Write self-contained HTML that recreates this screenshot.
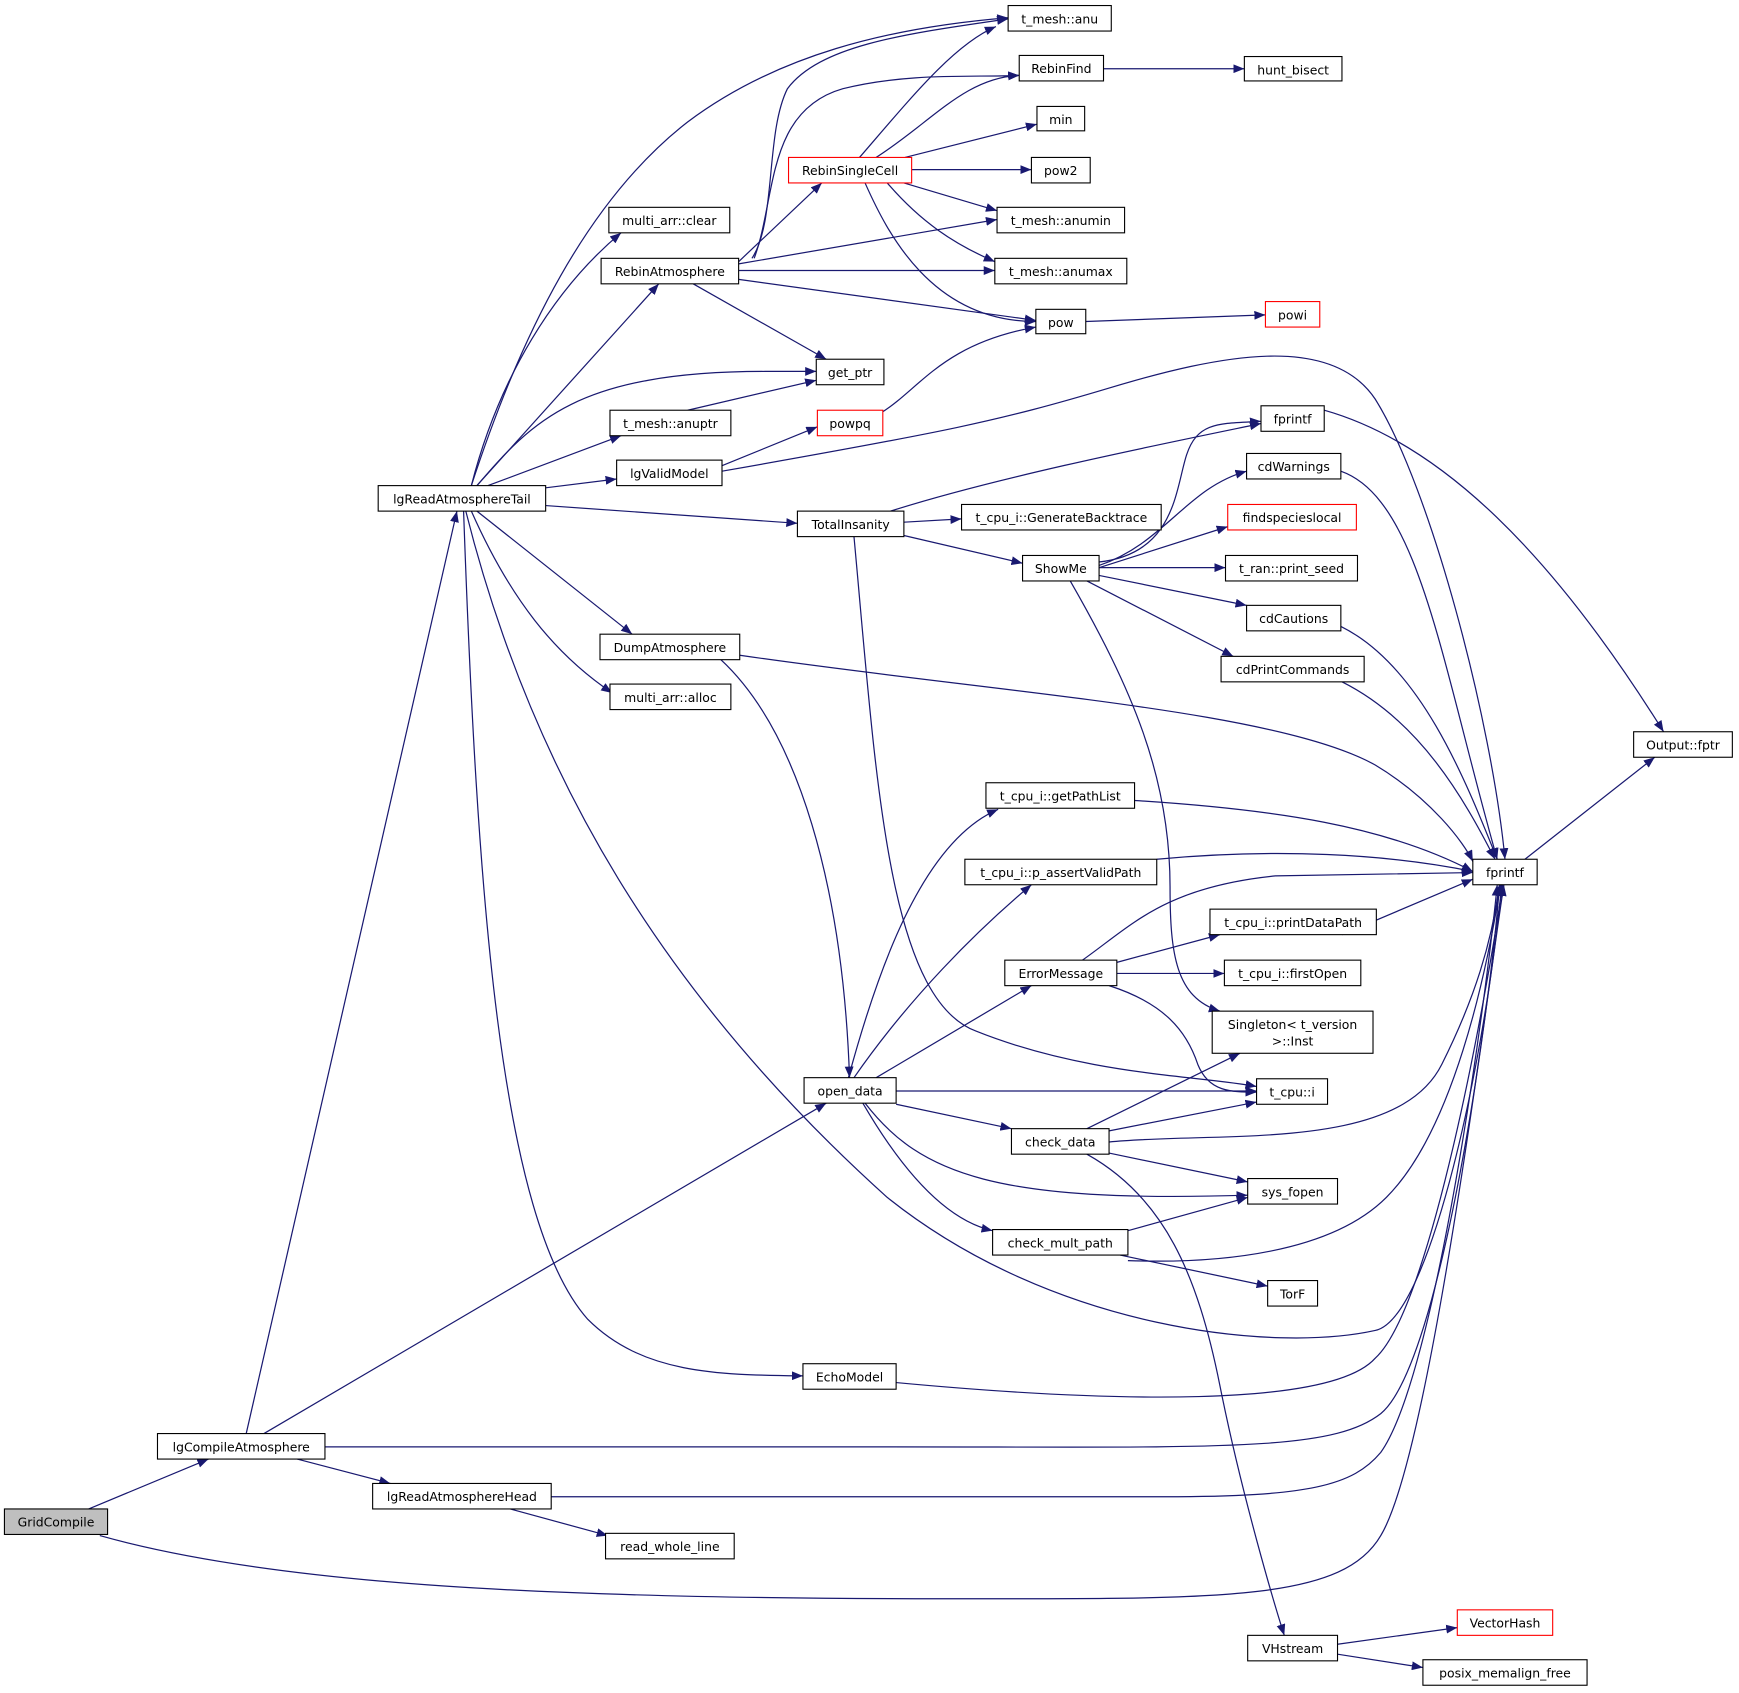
<!DOCTYPE html>
<html><head><meta charset="utf-8"><style>
html,body{margin:0;padding:0;background:#fff}
svg{display:block}
text{font-family:"DejaVu Sans","Liberation Sans",sans-serif;font-size:11.2px;fill:#000;text-anchor:middle}
.e{fill:none;stroke:#191970;stroke-width:1.1}
.n{fill:#fff;stroke:#000;stroke-width:1}
</style></head><body>
<svg width="1739" height="1693" viewBox="0 0 1568 1527" preserveAspectRatio="none" xmlns="http://www.w3.org/2000/svg">
<defs><marker id="a" markerUnits="userSpaceOnUse" markerWidth="11" markerHeight="8" refX="10" refY="4" orient="auto"><path d="M0,0 L10,4 L0,8 z" fill="#191970"/></marker></defs>
<g class="e" marker-end="url(#a)">
<path d="M80,1361 L188,1316"/>
<path d="M90,1385 C250,1430 500,1442 850,1442 C1100,1442 1210,1445 1245,1385 C1290,1310 1340,900 1356,798"/>
<path d="M222,1293 L412,461"/>
<path d="M238,1293 L745,995"/>
<path d="M268,1316 L352,1338"/>
<path d="M293,1305 L800,1305 C1100,1305 1200,1310 1245,1275 C1300,1230 1345,900 1352,798"/>
<path d="M460,1361 L548,1385"/>
<path d="M497,1350 L1050,1350 C1180,1350 1220,1340 1245,1310 C1295,1240 1340,900 1350,798"/>
<path d="M425,438 C470,300 530,180 620,110 C700,50 800,25 909,16"/>
<path d="M425,438 C450,340 500,260 560,210"/>
<path d="M430,438 L594,256"/>
<path d="M430,438 C480,380 520,335 690,335 L736,335"/>
<path d="M440,438 L560,393"/>
<path d="M492,440 L556,432"/>
<path d="M492,456 L719,472"/>
<path d="M430,461 L570,572"/>
<path d="M425,461 C460,540 500,590 552,625"/>
<path d="M420,461 C480,700 600,900 800,1080 C950,1200 1150,1220 1240,1200 C1290,1190 1340,950 1354,798"/>
<path d="M418,461 C430,800 450,1100 530,1190 C580,1240 650,1240 724,1241"/>
<path d="M678,233 C700,200 690,120 710,80 C740,40 820,30 909,17"/>
<path d="M680,233 C700,180 690,100 760,80 C820,65 880,70 919,68"/>
<path d="M666,236 L741,165"/>
<path d="M666,238 L899,198"/>
<path d="M666,244 L897,244"/>
<path d="M666,252 L934,289"/>
<path d="M625,256 L745,324"/>
<path d="M775,142 C820,90 860,40 898,24"/>
<path d="M790,142 C840,110 870,70 919,68"/>
<path d="M816,142 L935,112"/>
<path d="M822,153 L930,153"/>
<path d="M815,165 L899,190"/>
<path d="M800,165 C830,200 860,220 897,236"/>
<path d="M780,165 C800,210 840,290 934,290"/>
<path d="M995,62 L1122,62"/>
<path d="M979,290 L1141,284"/>
<path d="M620,370 L736,343"/>
<path d="M795,372 C830,350 850,310 934,295"/>
<path d="M651,420 L737,385"/>
<path d="M651,425 C850,390 900,380 1000,350 C1100,320 1200,300 1240,360 C1290,440 1345,650 1357,775"/>
<path d="M803,461 C900,430 1050,400 1137,382"/>
<path d="M815,471 L867,468"/>
<path d="M815,483 L922,508"/>
<path d="M770,484 C790,700 800,900 880,930 C980,970 1080,970 1133,980"/>
<path d="M990,507 C1060,500 1060,440 1070,410 C1080,380 1100,382 1137,380"/>
<path d="M991,510 C1050,490 1070,440 1124,425"/>
<path d="M991,512 L1107,475"/>
<path d="M991,512 L1105,512"/>
<path d="M991,519 L1124,546"/>
<path d="M980,524 L1112,592"/>
<path d="M965,524 C1020,620 1055,700 1055,800 C1055,860 1060,900 1100,912"/>
<path d="M1194,370 C1300,400 1400,500 1500,660"/>
<path d="M1375,775 L1492,683"/>
<path d="M1209,425 C1280,450 1300,600 1350,775"/>
<path d="M1209,565 C1280,600 1320,700 1350,775"/>
<path d="M1210,615 C1280,650 1320,720 1348,775"/>
<path d="M667,591 C900,625 1150,640 1240,690 C1290,720 1320,760 1328,777"/>
<path d="M650,595 C720,660 760,800 766,972"/>
<path d="M765,972 C790,880 830,760 900,730"/>
<path d="M770,972 C820,900 880,840 930,798"/>
<path d="M790,972 L930,889"/>
<path d="M808,984 L1133,984"/>
<path d="M808,996 L912,1018"/>
<path d="M780,995 C830,1060 900,1085 1125,1078"/>
<path d="M778,995 C810,1050 850,1100 895,1110"/>
<path d="M1023,722 C1150,730 1250,745 1328,786"/>
<path d="M1043,775 C1150,765 1250,770 1328,786"/>
<path d="M976,866 C1020,835 1050,800 1150,790 L1328,787"/>
<path d="M1007,868 L1100,843"/>
<path d="M1007,878 L1104,878"/>
<path d="M1000,889 C1050,905 1070,930 1080,960 C1090,985 1110,985 1133,985"/>
<path d="M1210,843 L1328,793"/>
<path d="M980,1018 L1118,950"/>
<path d="M1000,1020 L1133,994"/>
<path d="M1000,1040 L1125,1066"/>
<path d="M1000,1030 C1100,1020 1260,1040 1300,960 C1330,900 1345,850 1352,798"/>
<path d="M980,1041 C1050,1080 1080,1150 1100,1250 C1120,1350 1150,1450 1158,1475"/>
<path d="M1017,1110 L1125,1080"/>
<path d="M1010,1132 L1143,1160"/>
<path d="M1017,1137 C1100,1140 1200,1130 1250,1080 C1310,1020 1340,880 1353,798"/>
<path d="M808,1247 C1000,1265 1200,1270 1240,1225 C1290,1180 1340,900 1355,798"/>
<path d="M1206,1483 L1314,1468"/>
<path d="M1206,1492 L1283,1504"/>
</g>
<g>
<rect x="4" y="1361" width="93" height="23" fill="#bfbfbf" stroke="#000"/><text x="50.5" y="1377">GridCompile</text>
<rect class="n" x="142" y="1293" width="151" height="23"/><text x="217.5" y="1309">lgCompileAtmosphere</text>
<rect class="n" x="336" y="1338" width="161" height="23"/><text x="416.5" y="1354">lgReadAtmosphereHead</text>
<rect class="n" x="546" y="1383" width="116" height="23"/><text x="604" y="1399">read_whole_line</text>
<rect class="n" x="341" y="438" width="151" height="23"/><text x="416.5" y="454">lgReadAtmosphereTail</text>
<rect class="n" x="909" y="5" width="93" height="23"/><text x="955.5" y="21">t_mesh::anu</text>
<rect class="n" x="919" y="50" width="76" height="23"/><text x="957" y="66">RebinFind</text>
<rect class="n" x="1122" y="51" width="88" height="22"/><text x="1166" y="67">hunt_bisect</text>
<rect class="n" x="935" y="96" width="43" height="22"/><text x="956.5" y="112">min</text>
<rect x="711" y="142" width="111" height="23" fill="#fff" stroke="#f00"/><text x="766.5" y="158">RebinSingleCell</text>
<rect class="n" x="930" y="142" width="53" height="23"/><text x="956.5" y="158">pow2</text>
<rect class="n" x="549" y="187" width="109" height="23"/><text x="603.5" y="203">multi_arr::clear</text>
<rect class="n" x="899" y="187" width="115" height="23"/><text x="956.5" y="203">t_mesh::anumin</text>
<rect class="n" x="542" y="233" width="124" height="23"/><text x="604" y="249">RebinAtmosphere</text>
<rect class="n" x="897" y="233" width="119" height="23"/><text x="956.5" y="249">t_mesh::anumax</text>
<rect class="n" x="934" y="279" width="45" height="22"/><text x="956.5" y="295">pow</text>
<rect x="1141" y="272" width="49" height="23" fill="#fff" stroke="#f00"/><text x="1165.5" y="288">powi</text>
<rect class="n" x="736" y="324" width="61" height="23"/><text x="766.5" y="340">get_ptr</text>
<rect class="n" x="550" y="370" width="109" height="23"/><text x="604.5" y="386">t_mesh::anuptr</text>
<rect x="737" y="370" width="59" height="23" fill="#fff" stroke="#f00"/><text x="766.5" y="386">powpq</text>
<rect class="n" x="556" y="415" width="95" height="23"/><text x="603.5" y="431">lgValidModel</text>
<rect class="n" x="1137" y="366" width="57" height="23"/><text x="1165.5" y="382">fprintf</text>
<rect class="n" x="1124" y="409" width="85" height="23"/><text x="1166.5" y="425">cdWarnings</text>
<rect class="n" x="719" y="461" width="96" height="23"/><text x="767" y="477">TotalInsanity</text>
<rect class="n" x="867" y="455" width="180" height="23"/><text x="957" y="471">t_cpu_i::GenerateBacktrace</text>
<rect x="1107" y="455" width="116" height="23" fill="#fff" stroke="#f00"/><text x="1165" y="471">findspecieslocal</text>
<rect class="n" x="922" y="501" width="69" height="23"/><text x="956.5" y="517">ShowMe</text>
<rect class="n" x="1105" y="501" width="119" height="23"/><text x="1164.5" y="517">t_ran::print_seed</text>
<rect class="n" x="1124" y="546" width="85" height="23"/><text x="1166.5" y="562">cdCautions</text>
<rect class="n" x="541" y="572" width="126" height="23"/><text x="604" y="588">DumpAtmosphere</text>
<rect class="n" x="1101" y="592" width="129" height="23"/><text x="1165.5" y="608">cdPrintCommands</text>
<rect class="n" x="550" y="617" width="109" height="23"/><text x="604.5" y="633">multi_arr::alloc</text>
<rect class="n" x="1473" y="660" width="89" height="23"/><text x="1517.5" y="676">Output::fptr</text>
<rect class="n" x="889" y="706" width="134" height="23"/><text x="956" y="722">t_cpu_i::getPathList</text>
<rect class="n" x="1328" y="775" width="58" height="23"/><text x="1357" y="791">fprintf</text>
<rect class="n" x="870" y="775" width="173" height="23"/><text x="956.5" y="791">t_cpu_i::p_assertValidPath</text>
<rect class="n" x="1091" y="820" width="150" height="23"/><text x="1166" y="836">t_cpu_i::printDataPath</text>
<rect class="n" x="906" y="866" width="101" height="23"/><text x="956.5" y="882">ErrorMessage</text>
<rect class="n" x="1104" y="866" width="123" height="23"/><text x="1165.5" y="882">t_cpu_i::firstOpen</text>
<rect class="n" x="1093" y="912" width="145" height="38"/><text x="1165.5" y="928">Singleton&lt; t_version</text><text x="1165.5" y="943">&gt;::Inst</text>
<rect class="n" x="725" y="972" width="83" height="23"/><text x="766.5" y="988">open_data</text>
<rect class="n" x="1133" y="973" width="64" height="23"/><text x="1165" y="989">t_cpu::i</text>
<rect class="n" x="912" y="1018" width="88" height="23"/><text x="956" y="1034">check_data</text>
<rect class="n" x="1125" y="1063" width="81" height="23"/><text x="1165.5" y="1079">sys_fopen</text>
<rect class="n" x="895" y="1109" width="122" height="23"/><text x="956" y="1125">check_mult_path</text>
<rect class="n" x="1143" y="1155" width="45" height="23"/><text x="1165.5" y="1171">TorF</text>
<rect class="n" x="724" y="1230" width="84" height="23"/><text x="766" y="1246">EchoModel</text>
<rect class="n" x="1125" y="1475" width="81" height="23"/><text x="1165.5" y="1491">VHstream</text>
<rect x="1314" y="1452" width="86" height="23" fill="#fff" stroke="#f00"/><text x="1357" y="1468">VectorHash</text>
<rect class="n" x="1283" y="1497" width="148" height="23"/><text x="1357" y="1513">posix_memalign_free</text>
</g>
</svg>
</body></html>
